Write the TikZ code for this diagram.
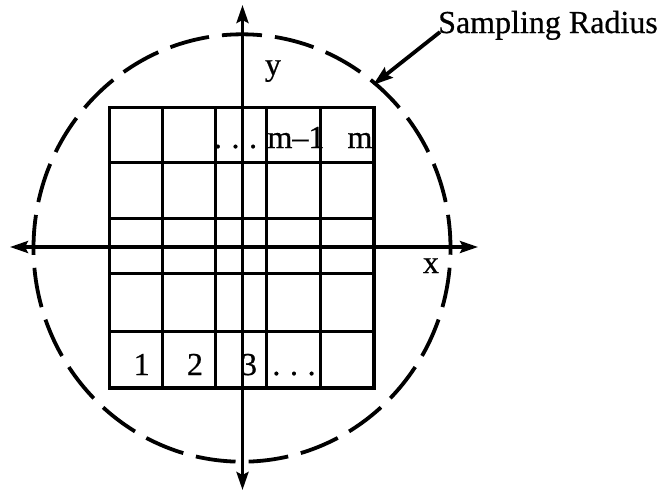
\documentclass[tikz,border=0pt]{standalone}
\usepackage{fontspec}
\setmainfont{Liberation Serif}[FakeBold=0.6]
\usetikzlibrary{arrows.meta}
\begin{document}
\begin{tikzpicture}[x=1pt,y=-1pt,
  gridline/.style={line width=3.3pt},
  axtip/.tip={Stealth[length=18pt,width=12pt,inset=3pt]},
  axisline/.style={line width=3.3pt,axtip-axtip},
  lbl/.style={inner sep=0pt,anchor=base,font=\fontsize{32}{38}\selectfont},
  samp/.style={line width=3.8pt,dash pattern=on 40pt off 13.06pt,dash phase=20pt},
  pointer/.style={line width=3.8pt,-{Stealth[length=20pt,width=13pt,inset=3pt]}}]
\useasboundingbox (0,0) rectangle (664,493);
% grid
\foreach \x in {162.3,215.7,266.7,320.7}
  \draw[gridline] (\x,107.3) -- (\x,388);
\foreach \y in {162.7,218.3,273.3,331.7}
  \draw[gridline] (109.3,\y) -- (374,\y);
\draw[gridline] (109.3,107.3) rectangle (374,388);
% sampling circle
\draw[samp] (242,34.3) arc[start angle=-90,end angle=270,x radius=208.5,y radius=213.7];
% axes
\coordinate (ytop) at (242.5,5);
\coordinate (ybot) at (242.5,490);
\coordinate (xl) at (10,247);
\coordinate (xr) at (478,247);
\draw[axisline] (ybot) -- (ytop);
\draw[axisline] (xl) -- (xr);
\node[lbl] (ylab) at (273,75) {y};
\node[lbl] (xlab) at (431,273) {x};
% cell labels
\node[lbl] (c1) at (141.7,375) {1};
\node[lbl] (c2) at (195,375) {2};
\node[lbl] (c3) at (249,375) {3};
\node[lbl] (c4) at (294,375) {.\kern.3em.\kern.3em.};
\node[lbl] (t3) at (235.5,148) {.\kern.3em.\kern.3em.};
\node[lbl] (t4) at (296,148) {m--1};
\node[lbl] (t5) at (360,148) {m};
% sampling radius label
\node[lbl,anchor=base west] (sr) at (438,33) {Sampling Radius};
\coordinate (srtip) at (373,85);
\draw[pointer] ([shift={(2,-1)}]sr.base west) -- (srtip);
\end{tikzpicture}
\end{document}
